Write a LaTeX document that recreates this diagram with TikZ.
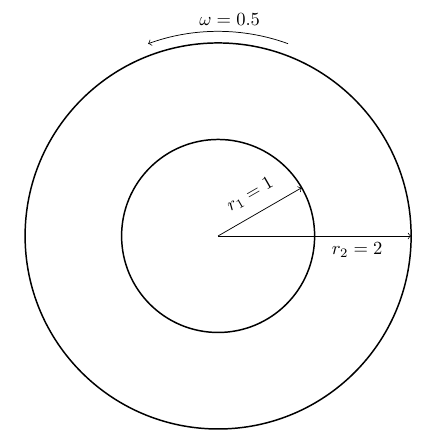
\documentclass[tikz,border=0pt]{standalone}
\usetikzlibrary{positioning}
\begin{document}
\begin{tikzpicture}[x=1.83cm,y=1.83cm]
              \useasboundingbox (-2.26,-2.197) rectangle (2.27,2.445);
              \coordinate (O) at (0,0);
              \coordinate (r1) at (30:1);
              \coordinate (r2) at (2,0);

              \draw[thick] (O) circle (1);
              \draw[thick] (O) circle (2);

              \draw[->] (O) -- (r1) node[midway, above=3pt, sloped] {$r_1=1$};
              \draw[->] (O) -- (r2) node[pos=0.72, below] {$r_2=2$};

              \draw[->] (70:2.12) arc (70:110:2.12);
              \node (omega) at (0.12,2.24) {$\omega=0.5$};
        \end{tikzpicture}
\end{document}
